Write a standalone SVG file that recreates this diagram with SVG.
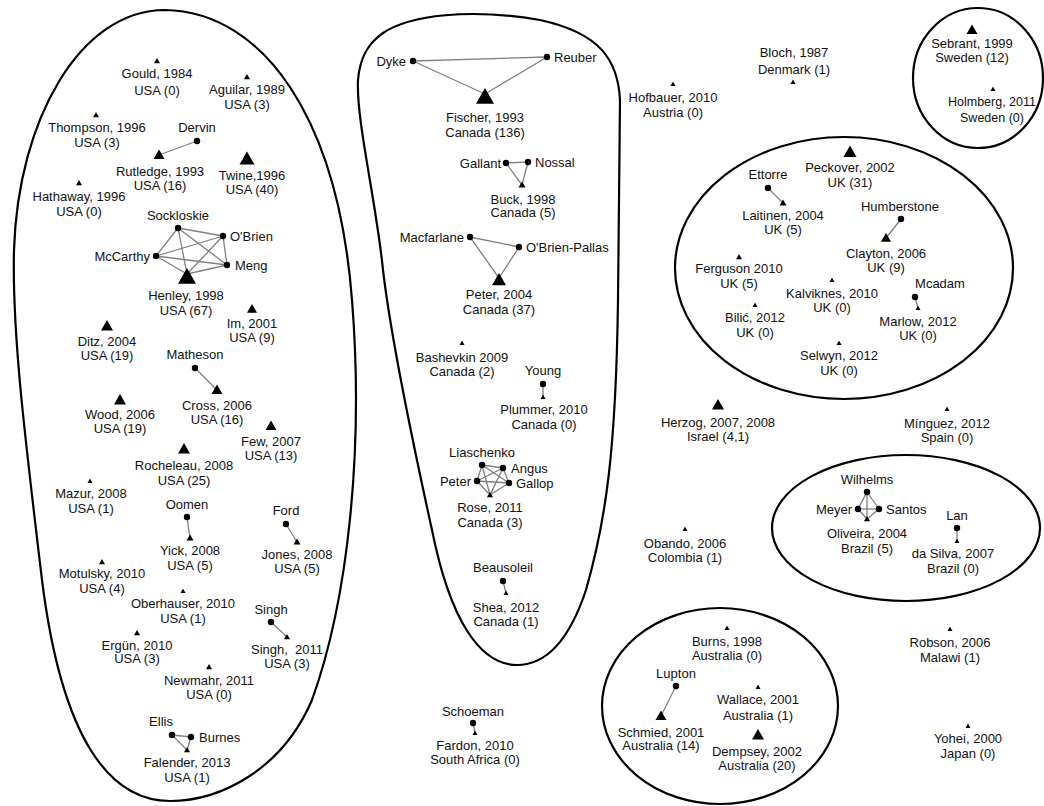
<svg xmlns="http://www.w3.org/2000/svg" width="1044" height="806" viewBox="0 0 1044 806">
<style>
text{font-family:"Liberation Sans",Arial,sans-serif;font-size:13px;fill:#111;}
.c{text-anchor:middle;}
.l{text-anchor:start;}
.r{text-anchor:end;}
.tri{fill:#000;}
.dot{fill:#000;}
.edge{stroke:#808080;stroke-width:1.3;fill:none;}
.cl{fill:none;stroke:#000;stroke-width:2.2;}
</style>
<rect width="1044" height="806" fill="#fff"/>
<g id="clusters">
<path id="cluster-usa" class="cl" d="M165,10 C265,12 338,120 352,300 C364,450 348,600 312,700 C282,770 220,801 170,801 C110,801 62,740 42,580 C24,430 12,330 14,250 C18,120 80,10 165,10 Z"/>
<path id="cluster-canada" class="cl" d="M383,33 C410,15 470,8 540,20 C600,33 618,60 620,100 L618,300 C616,450 606,520 586,590 C566,650 540,665 517,665 C480,665 450,620 432,530 C410,430 390,330 383,270 C376,200 356,120 358,80 C360,55 370,42 383,33 Z"/>
<ellipse id="cluster-sweden" class="cl" cx="978" cy="78" rx="65" ry="70"/>
<ellipse id="cluster-uk" class="cl" cx="844" cy="268" rx="169" ry="131"/>
<ellipse id="cluster-brazil" class="cl" cx="906" cy="528" rx="134" ry="73"/>
<ellipse id="cluster-australia" class="cl" cx="720" cy="706" rx="118" ry="98"/>
</g>
<g id="connectors">
<line class="edge" x1="197" y1="141" x2="159" y2="155"/>
<line class="edge" x1="178" y1="228" x2="223" y2="236"/>
<line class="edge" x1="178" y1="228" x2="156" y2="256"/>
<line class="edge" x1="178" y1="228" x2="227" y2="265"/>
<line class="edge" x1="178" y1="228" x2="187" y2="274"/>
<line class="edge" x1="223" y1="236" x2="156" y2="256"/>
<line class="edge" x1="223" y1="236" x2="227" y2="265"/>
<line class="edge" x1="223" y1="236" x2="187" y2="274"/>
<line class="edge" x1="156" y1="256" x2="227" y2="265"/>
<line class="edge" x1="156" y1="256" x2="187" y2="274"/>
<line class="edge" x1="227" y1="265" x2="187" y2="274"/>
<line class="edge" x1="195" y1="368" x2="217" y2="390"/>
<line class="edge" x1="187" y1="517" x2="190" y2="538"/>
<line class="edge" x1="286" y1="524" x2="297" y2="542"/>
<line class="edge" x1="271" y1="622" x2="287" y2="637"/>
<line class="edge" x1="172" y1="735" x2="191" y2="737"/>
<line class="edge" x1="172" y1="735" x2="187" y2="750"/>
<line class="edge" x1="191" y1="737" x2="187" y2="750"/>
<line class="edge" x1="413" y1="61" x2="547" y2="57"/>
<line class="edge" x1="413" y1="61" x2="485" y2="94"/>
<line class="edge" x1="547" y1="57" x2="485" y2="94"/>
<line class="edge" x1="506" y1="163" x2="528" y2="162"/>
<line class="edge" x1="506" y1="163" x2="522" y2="185"/>
<line class="edge" x1="528" y1="162" x2="522" y2="185"/>
<line class="edge" x1="470" y1="237" x2="519" y2="247"/>
<line class="edge" x1="470" y1="237" x2="499" y2="278"/>
<line class="edge" x1="519" y1="247" x2="499" y2="278"/>
<line class="edge" x1="543" y1="384" x2="543" y2="397"/>
<line class="edge" x1="482" y1="465" x2="503" y2="468"/>
<line class="edge" x1="482" y1="465" x2="477" y2="481"/>
<line class="edge" x1="482" y1="465" x2="509" y2="483"/>
<line class="edge" x1="482" y1="465" x2="490" y2="495"/>
<line class="edge" x1="503" y1="468" x2="477" y2="481"/>
<line class="edge" x1="503" y1="468" x2="509" y2="483"/>
<line class="edge" x1="503" y1="468" x2="490" y2="495"/>
<line class="edge" x1="477" y1="481" x2="509" y2="483"/>
<line class="edge" x1="477" y1="481" x2="490" y2="495"/>
<line class="edge" x1="509" y1="483" x2="490" y2="495"/>
<line class="edge" x1="503" y1="581" x2="506" y2="593"/>
<line class="edge" x1="473" y1="723" x2="475" y2="733"/>
<line class="edge" x1="676" y1="686" x2="661" y2="716"/>
<line class="edge" x1="768" y1="188" x2="783" y2="203"/>
<line class="edge" x1="901" y1="219" x2="886" y2="238"/>
<line class="edge" x1="915" y1="297" x2="918" y2="308"/>
<line class="edge" x1="867" y1="492" x2="858" y2="509"/>
<line class="edge" x1="867" y1="492" x2="879" y2="509"/>
<line class="edge" x1="867" y1="492" x2="867" y2="519"/>
<line class="edge" x1="858" y1="509" x2="879" y2="509"/>
<line class="edge" x1="858" y1="509" x2="867" y2="519"/>
<line class="edge" x1="879" y1="509" x2="867" y2="519"/>
<line class="edge" x1="957" y1="528" x2="957" y2="541"/>
</g>

<!-- USA cluster -->
<g id="n-gould"><polygon class="tri" points="157,58 154,63.3 160,63.3"/><text class="c" x="157" y="78">Gould, 1984<tspan x="157" y="95">USA (0)</tspan></text></g>
<g id="n-aguilar"><polygon class="tri" points="247,74 244,79.3 250,79.3"/><text class="c" x="247" y="94">Aguilar, 1989<tspan x="247" y="109">USA (3)</tspan></text></g>
<g id="n-thompson"><polygon class="tri" points="96,112 93,117.3 99,117.3"/><text class="c" x="97" y="132">Thompson, 1996<tspan x="97" y="147">USA (3)</tspan></text></g>
<g id="n-dervin"><circle class="dot" cx="197" cy="141" r="3.2"/><text class="c" x="197" y="132">Dervin</text></g>
<g id="n-rutledge"><polygon class="tri" points="159,149.5 153.5,159.1 164.5,159.1"/><text class="c" x="160" y="176">Rutledge, 1993<tspan x="160" y="190">USA (16)</tspan></text></g>
<g id="n-twine"><polygon class="tri" points="247,151.5 239.5,164.6 254.5,164.6"/><text class="c" x="252" y="180">Twine,1996<tspan x="252" y="194">USA (40)</tspan></text></g>
<g id="n-hathaway"><polygon class="tri" points="79,180 76,185.3 82,185.3"/><text class="c" x="79" y="201">Hathaway, 1996<tspan x="79" y="216">USA (0)</tspan></text></g>
<g id="n-sockloskie"><circle class="dot" cx="178" cy="228" r="3.2"/><text class="c" x="178" y="220">Sockloskie</text></g>
<g id="n-obrien"><circle class="dot" cx="223" cy="236" r="3.2"/><text class="l" x="230" y="241">O'Brien</text></g>
<g id="n-mccarthy"><circle class="dot" cx="156" cy="256" r="3.2"/><text class="r" x="150" y="261">McCarthy</text></g>
<g id="n-meng"><circle class="dot" cx="227" cy="265" r="3.2"/><text class="l" x="235" y="270">Meng</text></g>
<g id="n-henley"><polygon class="tri" points="187,268 178,283.8 196,283.8"/><text class="c" x="186" y="300">Henley, 1998<tspan x="186" y="315">USA (67)</tspan></text></g>
<g id="n-im"><polygon class="tri" points="252,304 247,312.8 257,312.8"/><text class="c" x="252" y="328">Im, 2001<tspan x="252" y="342">USA (9)</tspan></text></g>
<g id="n-ditz"><polygon class="tri" points="107,320 101,330.5 113,330.5"/><text class="c" x="107" y="346">Ditz, 2004<tspan x="107" y="360">USA (19)</tspan></text></g>
<g id="n-matheson"><circle class="dot" cx="195" cy="368" r="3.2"/><text class="c" x="195" y="359">Matheson</text></g>
<g id="n-cross"><polygon class="tri" points="217,384.5 211.5,394.1 222.5,394.1"/><text class="c" x="217" y="410">Cross, 2006<tspan x="217" y="424">USA (16)</tspan></text></g>
<g id="n-wood"><polygon class="tri" points="120,394 114,404.5 126,404.5"/><text class="c" x="120" y="419">Wood, 2006<tspan x="120" y="433">USA (19)</tspan></text></g>
<g id="n-few"><polygon class="tri" points="271,420.5 265.5,430.1 276.5,430.1"/><text class="c" x="271" y="446">Few, 2007<tspan x="271" y="460">USA (13)</tspan></text></g>
<g id="n-rocheleau"><polygon class="tri" points="184,443 178,453.5 190,453.5"/><text class="c" x="184" y="470">Rocheleau, 2008<tspan x="184" y="485">USA (25)</tspan></text></g>
<g id="n-mazur"><polygon class="tri" points="90,478.5 87.5,482.9 92.5,482.9"/><text class="c" x="91" y="498">Mazur, 2008<tspan x="91" y="513">USA (1)</tspan></text></g>
<g id="n-oomen"><circle class="dot" cx="187" cy="517" r="3.2"/><text class="c" x="187" y="509">Oomen</text></g>
<g id="n-ford"><circle class="dot" cx="286" cy="524" r="3.2"/><text class="c" x="286" y="515">Ford</text></g>
<g id="n-yick"><polygon class="tri" points="190,534.5 186.5,540.6 193.5,540.6"/><text class="c" x="190" y="555">Yick, 2008<tspan x="190" y="570">USA (5)</tspan></text></g>
<g id="n-jones"><polygon class="tri" points="297,538.5 293.5,544.6 300.5,544.6"/><text class="c" x="297" y="559">Jones, 2008<tspan x="297" y="573">USA (5)</tspan></text></g>
<g id="n-motulsky"><polygon class="tri" points="102,559 99,564.3 105,564.3"/><text class="c" x="102" y="578">Motulsky, 2010<tspan x="102" y="593">USA (4)</tspan></text></g>
<g id="n-oberhauser"><polygon class="tri" points="183,588.5 180.5,592.9 185.5,592.9"/><text class="c" x="183" y="608">Oberhauser, 2010<tspan x="183" y="623">USA (1)</tspan></text></g>
<g id="n-singh"><circle class="dot" cx="271" cy="622" r="3.2"/><text class="c" x="271" y="614">Singh</text></g>
<g id="n-singh2011"><polygon class="tri" points="287,634 284,639.3 290,639.3"/><text class="c" x="287" y="654" xml:space="preserve">Singh,  2011<tspan x="287" y="668">USA (3)</tspan></text></g>
<g id="n-ergun"><polygon class="tri" points="137,630 134,635.3 140,635.3"/><text class="c" x="137" y="650">Ergün, 2010<tspan x="137" y="663">USA (3)</tspan></text></g>
<g id="n-newmahr"><polygon class="tri" points="209,664 206,669.3 212,669.3"/><text class="c" x="209" y="685">Newmahr, 2011<tspan x="209" y="699">USA (0)</tspan></text></g>
<g id="n-ellis"><circle class="dot" cx="172" cy="735" r="3.2"/><text class="c" x="161" y="726">Ellis</text></g>
<g id="n-burnes"><circle class="dot" cx="191" cy="737" r="3.2"/><text class="l" x="199" y="742">Burnes</text></g>
<g id="n-falender"><polygon class="tri" points="187,747 184,752.3 190,752.3"/><text class="c" x="187" y="767">Falender, 2013<tspan x="187" y="782">USA (1)</tspan></text></g>

<!-- Canada cluster -->
<g id="n-dyke"><circle class="dot" cx="413" cy="61" r="3.2"/><text class="r" x="406" y="66">Dyke</text></g>
<g id="n-reuber"><circle class="dot" cx="547" cy="57" r="3.2"/><text class="l" x="554" y="62">Reuber</text></g>
<g id="n-fischer"><polygon class="tri" points="485,88 476,103.8 494,103.8"/><text class="c" x="485" y="122">Fischer, 1993<tspan x="485" y="137">Canada (136)</tspan></text></g>
<g id="n-gallant"><circle class="dot" cx="506" cy="163" r="3.2"/><text class="r" x="501" y="168">Gallant</text></g>
<g id="n-nossal"><circle class="dot" cx="528" cy="162" r="3.2"/><text class="l" x="535" y="167">Nossal</text></g>
<g id="n-buck"><polygon class="tri" points="522,181.5 518.5,187.6 525.5,187.6"/><text class="c" x="523" y="204">Buck, 1998<tspan x="523" y="217">Canada (5)</tspan></text></g>
<g id="n-macfarlane"><circle class="dot" cx="470" cy="237" r="3.2"/><text class="r" x="464" y="242">Macfarlane</text></g>
<g id="n-obrienpallas"><circle class="dot" cx="519" cy="247" r="3.2"/><text class="l" x="526" y="252">O'Brien-Pallas</text></g>
<g id="n-peter2004"><polygon class="tri" points="499,273 492,285.3 506,285.3"/><text class="c" x="499" y="299">Peter, 2004<tspan x="499" y="314">Canada (37)</tspan></text></g>
<g id="n-bashevkin"><polygon class="tri" points="462,340.5 459.5,344.9 464.5,344.9"/><text class="c" x="462" y="362">Bashevkin 2009<tspan x="462" y="376">Canada (2)</tspan></text></g>
<g id="n-young"><circle class="dot" cx="543" cy="384" r="3.2"/><text class="c" x="543" y="375">Young</text></g>
<g id="n-plummer"><polygon class="tri" points="543,394.5 540.5,398.9 545.5,398.9"/><text class="c" x="544" y="414">Plummer, 2010<tspan x="544" y="429">Canada (0)</tspan></text></g>
<g id="n-liaschenko"><circle class="dot" cx="482" cy="465" r="3.2"/><text class="c" x="482" y="457">Liaschenko</text></g>
<g id="n-angus"><circle class="dot" cx="503" cy="468" r="3.2"/><text class="l" x="511" y="473">Angus</text></g>
<g id="n-peter"><circle class="dot" cx="477" cy="481" r="3.2"/><text class="r" x="471" y="486">Peter</text></g>
<g id="n-gallop"><circle class="dot" cx="509" cy="483" r="3.2"/><text class="l" x="516" y="488">Gallop</text></g>
<g id="n-rose"><polygon class="tri" points="490,492 487,497.3 493,497.3"/><text class="c" x="490" y="512">Rose, 2011<tspan x="490" y="527">Canada (3)</tspan></text></g>
<g id="n-beausoleil"><circle class="dot" cx="503" cy="581" r="3.2"/><text class="c" x="503" y="572">Beausoleil</text></g>
<g id="n-shea"><polygon class="tri" points="506,590.5 503.5,594.9 508.5,594.9"/><text class="c" x="506" y="612">Shea, 2012<tspan x="506" y="626">Canada (1)</tspan></text></g>

<!-- South Africa -->
<g id="n-schoeman"><circle class="dot" cx="473" cy="723" r="3.2"/><text class="c" x="473" y="716">Schoeman</text></g>
<g id="n-fardon"><polygon class="tri" points="475,730.5 472.5,734.9 477.5,734.9"/><text class="c" x="475" y="750">Fardon, 2010<tspan x="475" y="764">South Africa (0)</tspan></text></g>

<!-- Single countries top -->
<g id="n-hofbauer"><polygon class="tri" points="673,81.5 670.5,85.9 675.5,85.9"/><text class="c" x="673" y="102">Hofbauer, 2010<tspan x="673" y="117">Austria (0)</tspan></text></g>
<g id="n-bloch"><text class="c" x="794" y="57">Bloch, 1987<tspan x="794" y="74">Denmark (1)</tspan></text><polygon class="tri" points="793,79.5 790.5,83.9 795.5,83.9"/></g>
<g id="n-sebrant"><polygon class="tri" points="972,24.5 966.5,34.1 977.5,34.1"/><text class="c" x="972" y="48">Sebrant, 1999<tspan x="972" y="62">Sweden (12)</tspan></text></g>
<g id="n-holmberg"><polygon class="tri" points="993,86.5 990.5,90.9 995.5,90.9"/><text class="c" x="992" y="106" style="font-size:12.5px">Holmberg, 2011<tspan x="992" y="122">Sweden (0)</tspan></text></g>

<!-- UK cluster -->
<g id="n-peckover"><polygon class="tri" points="850,145.5 843.5,156.9 856.5,156.9"/><text class="c" x="850" y="172">Peckover, 2002<tspan x="850" y="187">UK (31)</tspan></text></g>
<g id="n-ettorre"><circle class="dot" cx="768" cy="188" r="3.2"/><text class="c" x="768" y="179">Ettorre</text></g>
<g id="n-laitinen"><polygon class="tri" points="783,199.5 779.5,205.6 786.5,205.6"/><text class="c" x="783" y="220">Laitinen, 2004<tspan x="783" y="234">UK (5)</tspan></text></g>
<g id="n-humberstone"><circle class="dot" cx="901" cy="219" r="3.2"/><text class="c" x="900" y="211">Humberstone</text></g>
<g id="n-clayton"><polygon class="tri" points="886,233 881,241.8 891,241.8"/><text class="c" x="886" y="258">Clayton, 2006<tspan x="886" y="272">UK (9)</tspan></text></g>
<g id="n-ferguson"><polygon class="tri" points="739,254 736,259.3 742,259.3"/><text class="c" x="739" y="273">Ferguson 2010<tspan x="739" y="288">UK (5)</tspan></text></g>
<g id="n-kalviknes"><polygon class="tri" points="832,277.5 829.5,281.9 834.5,281.9"/><text class="c" x="832" y="298">Kalviknes, 2010<tspan x="832" y="312">UK (0)</tspan></text></g>
<g id="n-mcadam"><circle class="dot" cx="915" cy="297" r="3.2"/><text class="c" x="940" y="288">Mcadam</text></g>
<g id="n-marlow"><polygon class="tri" points="918,305.5 915.5,309.9 920.5,309.9"/><text class="c" x="918" y="326">Marlow, 2012<tspan x="918" y="340">UK (0)</tspan></text></g>
<g id="n-bilic"><polygon class="tri" points="755,302.5 752.5,306.9 757.5,306.9"/><text class="c" x="755" y="322">Bilić, 2012<tspan x="755" y="337">UK (0)</tspan></text></g>
<g id="n-selwyn"><polygon class="tri" points="839,340.5 836.5,344.9 841.5,344.9"/><text class="c" x="839" y="360">Selwyn, 2012<tspan x="839" y="375">UK (0)</tspan></text></g>

<!-- Middle singles -->
<g id="n-herzog"><polygon class="tri" points="718,399 712,409.5 724,409.5"/><text class="c" x="718" y="427">Herzog, 2007, 2008<tspan x="718" y="441">Israel (4,1)</tspan></text></g>
<g id="n-minguez"><polygon class="tri" points="947,406.5 944.5,410.9 949.5,410.9"/><text class="c" x="947" y="428">Mínguez, 2012<tspan x="947" y="442">Spain (0)</tspan></text></g>
<g id="n-obando"><polygon class="tri" points="685,526.5 682.5,530.9 687.5,530.9"/><text class="c" x="685" y="548">Obando, 2006<tspan x="685" y="562">Colombia (1)</tspan></text></g>

<!-- Brazil cluster -->
<g id="n-wilhelms"><circle class="dot" cx="867" cy="492" r="3.2"/><text class="c" x="867" y="484">Wilhelms</text></g>
<g id="n-meyer"><circle class="dot" cx="858" cy="509" r="3.2"/><text class="r" x="852" y="514">Meyer</text></g>
<g id="n-santos"><circle class="dot" cx="879" cy="509" r="3.2"/><text class="l" x="886" y="514">Santos</text></g>
<g id="n-oliveira"><polygon class="tri" points="867,516 864,521.3 870,521.3"/><text class="c" x="867" y="538">Oliveira, 2004<tspan x="867" y="553">Brazil (5)</tspan></text></g>
<g id="n-lan"><circle class="dot" cx="957" cy="528" r="3.2"/><text class="c" x="957" y="520">Lan</text></g>
<g id="n-dasilva"><polygon class="tri" points="957,538.5 954.5,542.9 959.5,542.9"/><text class="c" x="953" y="558">da Silva, 2007<tspan x="953" y="573">Brazil (0)</tspan></text></g>

<!-- Australia cluster -->
<g id="n-burns"><polygon class="tri" points="727,625.5 724.5,629.9 729.5,629.9"/><text class="c" x="727" y="646">Burns, 1998<tspan x="727" y="660">Australia (0)</tspan></text></g>
<g id="n-lupton"><circle class="dot" cx="676" cy="686" r="3.2"/><text class="c" x="676" y="678">Lupton</text></g>
<g id="n-schmied"><polygon class="tri" points="661,710.5 655.5,720.1 666.5,720.1"/><text class="c" x="661" y="737">Schmied, 2001<tspan x="661" y="750">Australia (14)</tspan></text></g>
<g id="n-wallace"><polygon class="tri" points="758,684.5 755.5,688.9 760.5,688.9"/><text class="c" x="758" y="704">Wallace, 2001<tspan x="758" y="720">Australia (1)</tspan></text></g>
<g id="n-dempsey"><polygon class="tri" points="758,729 752,739.5 764,739.5"/><text class="c" x="757" y="756">Dempsey, 2002<tspan x="757" y="770">Australia (20)</tspan></text></g>

<!-- Other singles -->
<g id="n-robson"><polygon class="tri" points="950,626.5 947.5,630.9 952.5,630.9"/><text class="c" x="950" y="647">Robson, 2006<tspan x="950" y="662">Malawi (1)</tspan></text></g>
<g id="n-yohei"><polygon class="tri" points="968,723.5 965.5,727.9 970.5,727.9"/><text class="c" x="968" y="743">Yohei, 2000<tspan x="968" y="758">Japan (0)</tspan></text></g>
</svg>
